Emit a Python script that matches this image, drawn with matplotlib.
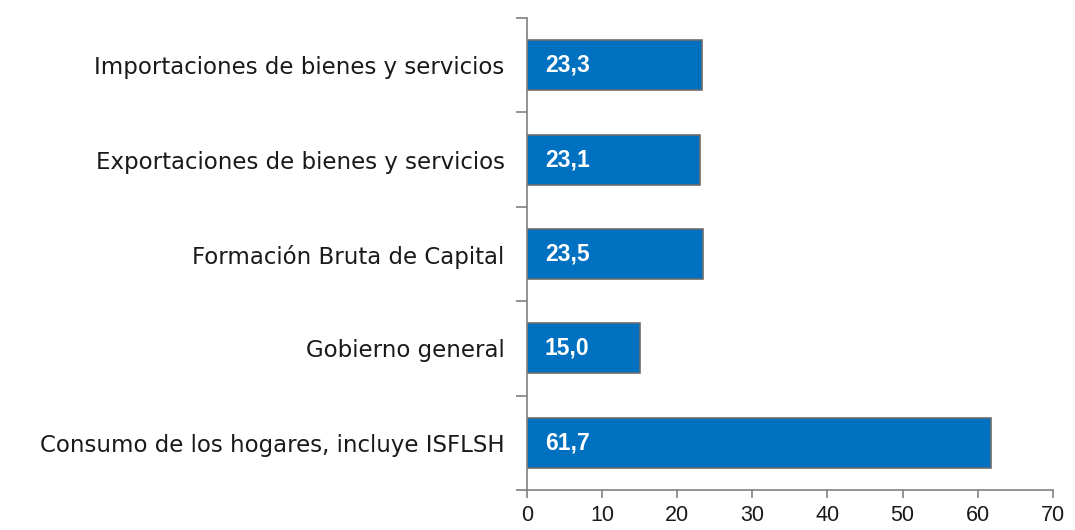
import numpy as np
import matplotlib.pyplot as plt
from matplotlib.ticker import FixedLocator

categories = ['Consumo de los hogares, incluye ISFLSH', 'Gobierno general',
              'Formación Bruta de Capital', 'Exportaciones de bienes y servicios',
              'Importaciones de bienes y servicios']
values = [61.7, 15.0, 23.5, 23.1, 23.3]
xticks = [0, 10, 20, 30, 40, 50, 60, 70]

plt.rcParams['font.family'] = ['Liberation Sans', 'DejaVu Sans']

fig = plt.figure(figsize=(10.75, 5.3), dpi=100)
ax = fig.add_axes([0.490, 0.0755, 0.4895, 0.8905])

pos = np.arange(len(categories))
ax.barh(pos, values, height=0.53, color='#0070C0', edgecolor='#6d6d6d', linewidth=1.2, zorder=2)

for p, v in zip(pos, values):
    ax.text(2.4, p, f'{v:.1f}'.replace('.', ','), color='white', fontsize=16.5,
            fontweight='bold', va='center', ha='left', zorder=3)

ax.set_xlim(0, 70)
ax.set_ylim(-0.5, len(categories) - 0.5)
ax.set_xticks(xticks)
ax.set_xticklabels([str(t) for t in xticks], fontsize=15.5, color='#1a1a1a')

ax.set_yticks(pos)
ax.set_yticklabels(categories, fontsize=16.5, color='#1a1a1a', family='DejaVu Sans')
ax.yaxis.set_minor_locator(FixedLocator(np.arange(-0.5, len(categories), 1.0)))
ax.tick_params(axis='y', which='major', length=0, pad=16)
ax.tick_params(axis='y', which='minor', length=8, width=1.2, color='#808080')
ax.tick_params(axis='x', length=6, width=1.2, color='#808080', pad=5)

for s in ['top', 'right']:
    ax.spines[s].set_visible(False)
for s in ['left', 'bottom']:
    ax.spines[s].set_color('#808080')
    ax.spines[s].set_linewidth(1.2)

fig.savefig('out.png', dpi=100)
